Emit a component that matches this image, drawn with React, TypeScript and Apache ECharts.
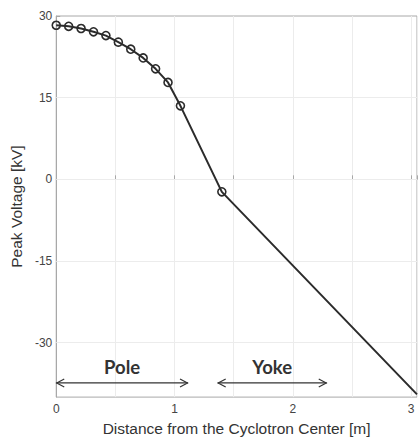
import React, { useEffect, useRef } from "react";
import * as echarts from "echarts";

// Measured data (distance [m], peak voltage [kV])
const distance = [0, 0.105, 0.21, 0.315, 0.42, 0.525, 0.63, 0.735, 0.84, 0.945, 1.05, 1.4, 3.05];
const voltage = [28.3, 28.1, 27.7, 27.1, 26.4, 25.2, 23.9, 22.3, 20.3, 17.8, 13.5, -2.3, -39.5];
const markerShown = [true, true, true, true, true, true, true, true, true, true, true, true, false];

const yTicks = [-30, -15, 0, 15, 30];
const yGridLines = [-30, -15, 0, 15];

// Region annotations
const regionNames = ["Pole", "Yoke"];
const regionStart = [0, 1.365];
const regionEnd = [1.114, 2.287];
const regionArrowY = [-37.4, -37.4];
const regionLabelY = [-34.4, -34.4];

export default function App() {
  const ref = useRef<HTMLDivElement>(null);
  useEffect(() => {
    document.body.style.margin = "0";
    const chart = echarts.init(ref.current!, null, { renderer: "svg" });
    const ink = "#2b2b2b";
    chart.setOption({
      animation: false,
      backgroundColor: "#ffffff",
      grid: {
        left: 55,
        top: 16,
        right: 0.8,
        bottom: 35,
        show: true,
        borderColor: "#a8a8a8",
        borderWidth: 1,
        backgroundColor: "transparent",
      },
      xAxis: {
        type: "value",
        min: 0,
        max: 3.05,
        interval: 0.5,
        name: "Distance from the Cyclotron Center [m]",
        nameLocation: "middle",
        nameGap: 20,
        nameTextStyle: { fontFamily: "Liberation Sans", fontSize: 15.5, color: "#333" },
        axisLine: { lineStyle: { color: "#a8a8a8" } },
        axisTick: { inside: true, length: 4, lineStyle: { color: "#a8a8a8" } },
        axisLabel: {
          fontFamily: "Liberation Sans",
          fontSize: 12,
          color: "#444",
          margin: 6,
          showMaxLabel: true,
          formatter: (v: number) => (Math.abs(v - Math.round(v)) < 1e-6 ? String(Math.round(v)) : ""),
        },
        splitLine: { show: true, lineStyle: { color: "#ececec", width: 1 } },
      },
      yAxis: {
        type: "value",
        min: -40,
        max: 30,
        name: "Peak Voltage [kV]",
        nameLocation: "middle",
        nameGap: 26,
        nameTextStyle: { fontFamily: "Liberation Sans", fontSize: 15.5, color: "#333" },
        axisLine: { show: true, lineStyle: { color: "#a8a8a8" } },
        axisTick: { show: true, inside: true, length: 4, customValues: yTicks, lineStyle: { color: "#a8a8a8" } },
        axisLabel: {
          fontFamily: "Liberation Sans",
          fontSize: 12,
          color: "#444",
          margin: 4,
          customValues: yTicks,
        },
        splitLine: { show: false },
      },
      series: [
        {
          type: "line",
          data: distance.map((x, i) => ({
            value: [x, voltage[i]],
            symbol: markerShown[i] ? "circle" : "none",
          })),
          symbolSize: 8,
          showAllSymbol: true,
          lineStyle: { color: ink, width: 2 },
          itemStyle: { color: "rgba(0,0,0,0)", borderColor: ink, borderWidth: 1.6 },
          z: 5,
          markLine: {
            silent: true,
            symbol: "none",
            label: { show: false },
            lineStyle: { color: "#ececec", width: 1, type: "solid" },
            data: yGridLines.map((v) => ({ yAxis: v })),
            z: 1,
          },
        },
        {
          type: "custom",
          encode: { x: [0, 1], y: [2, 3] },
          data: regionNames.map((_, i) => [regionStart[i], regionEnd[i], regionArrowY[i], regionLabelY[i]]),
          renderItem: (params: any, api: any) => {
            const x0 = api.value(0);
            const x1 = api.value(1);
            const y = api.value(2);
            const p0 = api.coord([x0, y]);
            const p1 = api.coord([x1, y]);
            const lab = api.coord([(x0 + x1) / 2, api.value(3)]);
            const st = { stroke: "#333", lineWidth: 1.2, fill: "none" };
            return {
              type: "group",
              children: [
                { type: "line", shape: { x1: p0[0], y1: p0[1], x2: p1[0], y2: p1[1] }, style: st },
                {
                  type: "polyline",
                  shape: { points: [[p0[0] + 8, p0[1] - 4], [p0[0] + 0.5, p0[1]], [p0[0] + 8, p0[1] + 4]] },
                  style: st,
                },
                {
                  type: "polyline",
                  shape: { points: [[p1[0] - 8, p1[1] - 4], [p1[0] - 0.5, p1[1]], [p1[0] - 8, p1[1] + 4]] },
                  style: st,
                },
                {
                  type: "text",
                  style: {
                    text: regionNames[params.dataIndex],
                    x: lab[0],
                    y: lab[1],
                    align: "center",
                    verticalAlign: "middle",
                    fontFamily: "Lato",
                    fontWeight: "bold",
                    fontSize: 18.5,
                    fill: "#333",
                  },
                },
              ],
            };
          },
          z: 6,
        },
      ],
    });
    return () => chart.dispose();
  }, []);
  return <div ref={ref} style={{ width: 420, height: 441 }} />;
}
